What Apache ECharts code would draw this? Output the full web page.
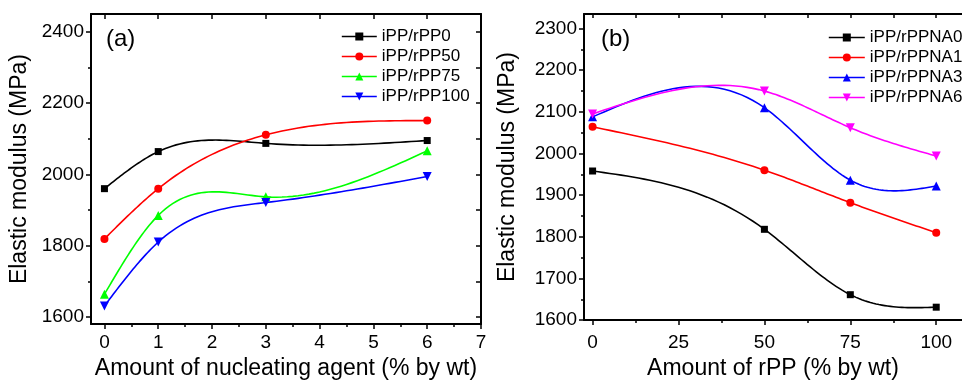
<!DOCTYPE html>
<html>
<head>
<meta charset="utf-8">
<script src="https://cdn.jsdelivr.net/npm/echarts@6/dist/echarts.min.js"></script>
<style>
  html, body { margin: 0; padding: 0; background: #fff; }
  #chart { width: 962px; height: 385px; }
</style>
</head>
<body>
<div id="chart"></div>
<script>
// panel (a): nucleating agent content
const nucleating = [0, 1, 3, 6];
const rpp0 = [1960, 2064, 2087, 2095];
const rpp50 = [1819, 1960, 2111, 2151];
const rpp75 = [1664, 1885, 1937, 2066];
const rpp100 = [1631, 1810, 1921, 1994];

// panel (b): rPP content
const rppAmount = [0, 50, 75, 100];
const na0 = [1958, 1818, 1661, 1631];
const na1 = [2064, 1960, 1882, 1810];
const na3 = [2088, 2110, 1936, 1922];
const na6 = [2095, 2150, 2062, 1994];

// ticks
const aXTicks = [0, 1, 2, 3, 4, 5, 6, 7];
const aXMinor = [0.5, 1.5, 2.5, 3.5, 4.5, 5.5, 6.5];
const aYTicks = [1600, 1800, 2000, 2200, 2400];
const aYMinor = [1700, 1900, 2100, 2300];
const bXTicks = [0, 25, 50, 75, 100];
const bXMinor = [12.5, 37.5, 62.5, 87.5];
const bYTicks = [1600, 1700, 1800, 1900, 2000, 2100, 2200, 2300];
const bYMinor = [1650, 1750, 1850, 1950, 2050, 2150, 2250];

const FONT = "Liberation Sans";

// natural cubic spline through the measured points (like Origin's "spline" connection)
function makeSpline(xs, ys) {
  const n = xs.length;
  const h = [];
  for (let i = 0; i < n - 1; i++) h.push(xs[i + 1] - xs[i]);
  const M = new Array(n).fill(0);
  if (n > 2) {
    const a = [], b = [], c = [], d = [];
    for (let i = 1; i < n - 1; i++) {
      a.push(h[i - 1]);
      b.push(2 * (h[i - 1] + h[i]));
      c.push(h[i]);
      d.push(6 * ((ys[i + 1] - ys[i]) / h[i] - (ys[i] - ys[i - 1]) / h[i - 1]));
    }
    const m = b.length;
    for (let i = 1; i < m; i++) {
      const w = a[i] / b[i - 1];
      b[i] -= w * c[i - 1];
      d[i] -= w * d[i - 1];
    }
    const sol = new Array(m);
    sol[m - 1] = d[m - 1] / b[m - 1];
    for (let i = m - 2; i >= 0; i--) sol[i] = (d[i] - c[i] * sol[i + 1]) / b[i];
    for (let i = 0; i < m; i++) M[i + 1] = sol[i];
  }
  return function (i, x) {
    const hi = h[i], x0 = xs[i], x1 = xs[i + 1];
    return M[i] * Math.pow(x1 - x, 3) / (6 * hi) + M[i + 1] * Math.pow(x - x0, 3) / (6 * hi)
      + (ys[i] / hi - M[i] * hi / 6) * (x1 - x) + (ys[i + 1] / hi - M[i + 1] * hi / 6) * (x - x0);
  };
}

function curveSeries(xs, ys, color, xi, yi) {
  const f = makeSpline(xs, ys);
  return {
    type: "custom",
    xAxisIndex: xi,
    yAxisIndex: yi,
    silent: true,
    z: 2,
    data: xs.map((x, i) => [x, ys[i]]),
    renderItem: (params, api) => {
      const i = params.dataIndex;
      if (i >= xs.length - 1) return null;
      const pts = [];
      const steps = 30;
      for (let k = 0; k <= steps; k++) {
        const x = xs[i] + (xs[i + 1] - xs[i]) * k / steps;
        pts.push(api.coord([x, f(i, x)]));
      }
      return {
        type: "polyline",
        shape: { points: pts },
        style: { stroke: color, lineWidth: 1.6, fill: null },
      };
    },
  };
}

function markerSeries(name, xs, ys, color, symbol, size, xi, yi, rotate) {
  return {
    name: name,
    type: "line",
    xAxisIndex: xi,
    yAxisIndex: yi,
    data: xs.map((x, i) => [x, ys[i]]),
    symbol: symbol,
    symbolSize: size,
    symbolRotate: rotate || 0,
    showAllSymbol: true,
    z: 3,
    itemStyle: { color: color },
    lineStyle: { color: color, width: 1.6, opacity: 0 },
  };
}

const plain = (v) => String(v);

function baseX(grid, min, max, ticks, gap, name, margin) {
  return {
    type: "value", gridIndex: grid, min: min, max: max,
    name: name, nameLocation: "middle", nameGap: gap,
    nameTextStyle: { fontFamily: FONT, fontSize: 23, color: "#000" },
    axisLine: { show: true, onZero: false, lineStyle: { color: "#000", width: 2 } },
    axisTick: { show: true, length: 5, customValues: ticks, lineStyle: { color: "#000", width: 1.5 } },
    axisLabel: { customValues: ticks, formatter: plain, fontFamily: FONT, fontSize: 19, color: "#000", margin: margin },
    splitLine: { show: false },
  };
}
function baseY(grid, min, max, ticks, gap, name) {
  return {
    type: "value", gridIndex: grid, min: min, max: max,
    name: name, nameLocation: "middle", nameGap: gap,
    nameTextStyle: { fontFamily: FONT, fontSize: 23, color: "#000" },
    axisLine: { show: true, onZero: false, lineStyle: { color: "#000", width: 2 } },
    axisTick: { show: true, length: 5, customValues: ticks, lineStyle: { color: "#000", width: 1.5 } },
    axisLabel: { customValues: ticks, formatter: plain, fontFamily: FONT, fontSize: 19, color: "#000", margin: 7 },
    splitLine: { show: false },
  };
}
// tick-only axis (minor ticks, mirrored frame side)
function tickAxis(grid, min, max, ticks, len, inside, position, lineShow) {
  return {
    type: "value", gridIndex: grid, min: min, max: max, position: position,
    axisLine: { show: lineShow, onZero: false, lineStyle: { color: "#000", width: 2 } },
    axisTick: { show: true, inside: inside, length: len, customValues: ticks, lineStyle: { color: "#000", width: 1.5 } },
    axisLabel: { show: false, customValues: ticks },
    splitLine: { show: false },
  };
}

const chart = echarts.init(document.getElementById("chart"));

const legendText = { fontFamily: FONT, fontSize: 17, color: "#000" };

chart.setOption({
  animation: false,
  backgroundColor: "#fff",
  grid: [
    { left: 91, right: 481, top: 14, bottom: 53 },
    { left: 584, right: -4, top: 14, bottom: 58 },
  ],
  xAxis: [
    baseX(0, -0.25, 7, aXTicks, 31, "Amount of nucleating agent (% by wt)", 9),
    tickAxis(0, -0.25, 7, aXMinor, 3, false, "bottom", false),
    tickAxis(0, -0.25, 7, aXTicks, 5, true, "top", true),
    baseX(1, -2.5, 107.5, bXTicks, 36, "Amount of rPP (% by wt)", 13),
    tickAxis(1, -2.5, 107.5, bXMinor, 3, false, "bottom", false),
    tickAxis(1, -2.5, 107.5, bXTicks.concat(bXMinor), 4, true, "top", true),
  ],
  yAxis: [
    baseY(0, 1580, 2450, aYTicks, 60, "Elastic modulus (MPa)"),
    tickAxis(0, 1580, 2450, aYMinor, 3, false, "left", false),
    tickAxis(0, 1580, 2450, aYTicks.concat(aYMinor), 5, true, "right", true),
    baseY(1, 1600, 2335, bYTicks, 65, "Elastic modulus (MPa)"),
    tickAxis(1, 1600, 2335, bYMinor, 3, false, "left", false),
  ],
  legend: [
    {
      orient: "vertical", left: 336, top: 23, itemWidth: 35, itemHeight: 10, itemGap: 3,
      selectedMode: false, textStyle: legendText,
      lineStyle: { width: 1.6, opacity: 1 },
      data: ["iPP/rPP0", "iPP/rPP50", "iPP/rPP75", "iPP/rPP100"],
    },
    {
      orient: "vertical", left: 823, top: 24, itemWidth: 36, itemHeight: 10, itemGap: 3,
      selectedMode: false, textStyle: legendText,
      lineStyle: { width: 1.6, opacity: 1 },
      data: ["iPP/rPPNA0", "iPP/rPPNA1", "iPP/rPPNA3", "iPP/rPPNA6"],
    },
  ],
  graphic: [
    { type: "text", left: 106, top: 27, style: { text: "(a)", fontFamily: FONT, fontSize: 24, fill: "#000" } },
    { type: "text", left: 601, top: 27, style: { text: "(b)", fontFamily: FONT, fontSize: 24, fill: "#000" } },
  ],
  series: [
    curveSeries(nucleating, rpp0, "#000000", 0, 0),
    curveSeries(nucleating, rpp50, "#ff0000", 0, 0),
    curveSeries(nucleating, rpp75, "#00ff00", 0, 0),
    curveSeries(nucleating, rpp100, "#0000ff", 0, 0),
    markerSeries("iPP/rPP0", nucleating, rpp0, "#000000", "rect", 7, 0, 0),
    markerSeries("iPP/rPP50", nucleating, rpp50, "#ff0000", "circle", 8, 0, 0),
    markerSeries("iPP/rPP75", nucleating, rpp75, "#00ff00", "triangle", 9, 0, 0),
    markerSeries("iPP/rPP100", nucleating, rpp100, "#0000ff", "triangle", 9, 0, 0, 180),

    curveSeries(rppAmount, na0, "#000000", 3, 3),
    curveSeries(rppAmount, na1, "#ff0000", 3, 3),
    curveSeries(rppAmount, na3, "#0000ff", 3, 3),
    curveSeries(rppAmount, na6, "#ff00ff", 3, 3),
    markerSeries("iPP/rPPNA0", rppAmount, na0, "#000000", "rect", 7, 3, 3),
    markerSeries("iPP/rPPNA1", rppAmount, na1, "#ff0000", "circle", 8, 3, 3),
    markerSeries("iPP/rPPNA3", rppAmount, na3, "#0000ff", "triangle", 9, 3, 3),
    markerSeries("iPP/rPPNA6", rppAmount, na6, "#ff00ff", "triangle", 9, 3, 3, 180),
  ],
});
</script>
</body>
</html>
